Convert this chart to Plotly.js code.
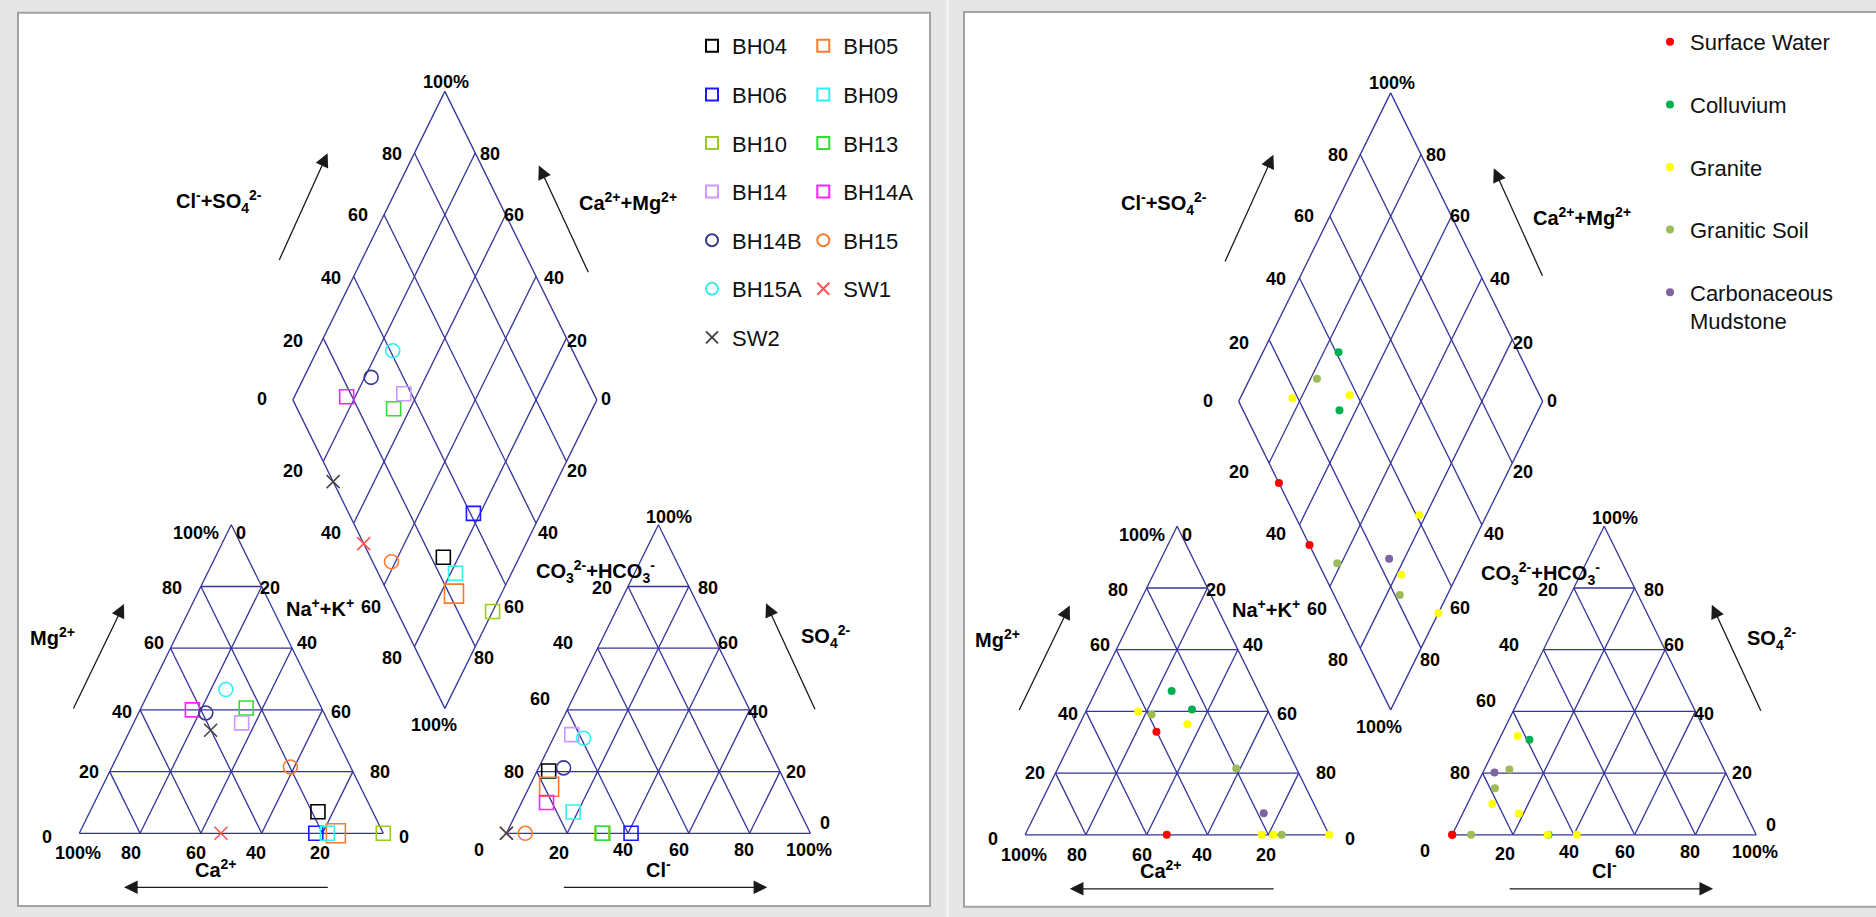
<!DOCTYPE html>
<html>
<head>
<meta charset="utf-8">
<script src="https://cdn.plot.ly/plotly-3.0.1.min.js"></script>
<style>
html,body{margin:0;padding:0;background:#e6e6e6;}
#chart{width:1876px;height:917px;}
</style>
</head>
<body>
<div id="chart"></div>
<script>
// ---------------- DATA (percent of meq) ----------------
const samples = ['BH04','BH05','BH06','BH09','BH10','BH13','BH14','BH14A','BH14B','BH15','BH15A','SW1','SW2'];
const calcium         = [18.0, 15.6, 22.2, 18.4,   0.0, 24.8, 28.7, 42.8, 38.9, 19.8, 28.5, 53.4, 40.1];
const magnesium       = [ 7.0,  0.0,  0.0,  0.0,   0.0, 40.6, 35.8, 40.0, 39.0, 21.5, 46.6,  0.0, 33.4];
const sodiumPotassium = [75.0, 84.4, 77.8, 81.6, 100.0, 34.6, 35.5, 17.2, 22.1, 58.7, 24.9, 46.6, 26.5];
const bicarbonate     = [76.0, 78.4, 59.0, 74.6,  68.6, 68.3, 62.5, 81.8, 70.6, 93.8, 59.2,100.0,100.0];
const sulfate         = [20.2, 15.1,  0.0,  6.9,   0.0,  0.0, 32.0, 10.0, 21.2,  0.0, 30.8,  0.0,  0.0];
const chloride        = [ 3.8,  6.5, 41.0, 18.5,  31.4, 31.7,  5.5,  8.2,  8.2,  6.2, 10.0,  0.0,  0.0];
const geology = ['Carbonaceous Mudstone','Granitic Soil','Granite','Granite','Granite','Colluvium',
                 'Granite','Granite','Granitic Soil','Granitic Soil','Colluvium','Surface Water','Surface Water'];
const geologyGroups = ['Surface Water','Colluvium','Granite','Granitic Soil','Carbonaceous Mudstone'];
const geologyLabels = ['Surface Water','Colluvium','Granite','Granitic Soil','Carbonaceous<br>Mudstone'];
const gridLevels = [0, 20, 40, 60, 80];
const edgeLevel = 100;

// ---------------- STYLES ----------------
const sampleStyles = {
  BH04:  {symbol:'square-open', color:'#000000', size:14},
  BH05:  {symbol:'square-open', color:'#ff7a2f', size:19},
  BH06:  {symbol:'square-open', color:'#1a1aff', size:14},
  BH09:  {symbol:'square-open', color:'#33f0f0', size:14},
  BH10:  {symbol:'square-open', color:'#99cc22', size:14},
  BH13:  {symbol:'square-open', color:'#33dd33', size:14},
  BH14:  {symbol:'square-open', color:'#cc99ff', size:14},
  BH14A: {symbol:'square-open', color:'#ff22ff', size:14},
  BH14B: {symbol:'circle-open', color:'#3a3a8f', size:14},
  BH15:  {symbol:'circle-open', color:'#ff7a2f', size:14},
  BH15A: {symbol:'circle-open', color:'#33f0f0', size:14},
  SW1:   {symbol:'x-thin-open', color:'#ff5555', size:13},
  SW2:   {symbol:'x-thin-open', color:'#444444', size:13}
};
const groupColors = {'Surface Water':'#ff0000','Colluvium':'#00b050','Granite':'#ffff00',
                     'Granitic Soil':'#9bbb59','Carbonaceous Mudstone':'#8064a2'};
const GRID_COLOR = '#33339a';
const FONT = 'Liberation Sans, Arial, sans-serif';

// ---------------- GEOMETRY (pixel frame of the page) ----------------
const W = 1876, H = 917;
const OX = 79.3, OY = 833.3;      // pixel of cation triangle's lower-left vertex (left panel)
const SX = 3.04, SY = 3.085;      // pixels per percent unit
const GAP = 40.5;                 // gap between the two triangles (units)
const PANEL_DX = 945.8, PANEL_DY = 1.5; // pixel shift of the right panel
const shiftX = PANEL_DX / SX, shiftY = -PANEL_DY / SY;

function cationXY(ca, mg, nak){ const s = ca+mg+nak; mg=100*mg/s; nak=100*nak/s; return [nak + mg/2, mg]; }
function anionXY(hco3, so4, cl){ const s = hco3+so4+cl; so4=100*so4/s; cl=100*cl/s; return [100 + GAP + cl + so4/2, so4]; }
function diamondXY(nak, cs){ return [50 + GAP/2 + (nak + cs)/2, 100 + GAP + cs - nak]; }
function cationNaK(i){ return 100*sodiumPotassium[i]/(calcium[i]+magnesium[i]+sodiumPotassium[i]); }
function anionClSO4(i){ return 100*(chloride[i]+sulfate[i])/(bicarbonate[i]+sulfate[i]+chloride[i]); }
function samplePoints(i){
  return [cationXY(calcium[i], magnesium[i], sodiumPotassium[i]),
          diamondXY(cationNaK(i), anionClSO4(i)),
          anionXY(bicarbonate[i], sulfate[i], chloride[i])];
}
const X = px => (px - OX) / SX;
const Y = py => (OY - py) / SY;

// ---------------- GRID ----------------
function gridTrace(dx, dy){
  const xs = [], ys = [];
  const seg = (a, b) => { xs.push(a[0]+dx, b[0]+dx, null); ys.push(a[1]+dy, b[1]+dy, null); };
  gridLevels.forEach(L => {
    const R = edgeLevel - L;
    // cation triangle
    seg(cationXY(R, L, 0), cationXY(0, L, R));
    seg(cationXY(R, 0, L), cationXY(0, R, L));
    seg(cationXY(L, 0, R), cationXY(L, R, 0));
    // anion triangle
    seg(anionXY(R, L, 0), anionXY(0, L, R));
    seg(anionXY(R, 0, L), anionXY(0, R, L));
    seg(anionXY(L, 0, R), anionXY(L, R, 0));
  });
  gridLevels.concat([edgeLevel]).forEach(L => {
    seg(diamondXY(0, L), diamondXY(100, L));
    seg(diamondXY(L, 0), diamondXY(L, 100));
  });
  return {x:xs, y:ys, type:'scatter', mode:'lines', line:{color:GRID_COLOR, width:1.3},
          hoverinfo:'skip', showlegend:false, cliponaxis:false};
}

const traces = [gridTrace(0,0), gridTrace(shiftX, shiftY)];

// left panel: one trace per sample
samples.forEach((name, i) => {
  const st = sampleStyles[name];
  const pts = samplePoints(i);
  traces.push({
    type:'scatter', mode:'markers', name:name,
    x: pts.map(p => p[0]), y: pts.map(p => p[1]),
    marker:{symbol:st.symbol, color:st.color, size:st.size, line:{color:st.color, width:1.6}},
    legend: (i % 2 === 0) ? 'legend' : 'legend2',
    legendgroup:'s'+name, cliponaxis:false, hoverinfo:'name'
  });
});

// right panel: one trace per geology group
geologyGroups.forEach((g, k) => {
  const xs = [], ys = [];
  samples.forEach((name, i) => {
    if (geology[i] !== g) return;
    samplePoints(i).forEach(p => { xs.push(p[0] + shiftX); ys.push(p[1] + shiftY); });
  });
  traces.push({
    type:'scatter', mode:'markers', name:geologyLabels[k], x:xs, y:ys,
    marker:{symbol:'circle', color:groupColors[g], size:8},
    legend:'legend3', legendgroup:'g'+k, cliponaxis:false, hoverinfo:'name'
  });
});

// ---------------- LABELS (pixel positions in the left panel) ----------------
const tickLabels = [
  // cation triangle
  ['100%',196,533.3],['0',240.7,533.3],['80',171.7,588.3],['20',270,588.3],['60',154,643.3],['40',307.3,643.3],
  ['40',121.7,712.3],['60',340.7,712.3],['20',89.3,771.7],['80',380,771.7],['0',46.7,837.3],['0',404.3,837.3],
  ['100%',77.7,853.3],['80',130.7,853.3],['60',196,853.3],['40',256,853.3],['20',320,853.3],
  // anion triangle
  ['100%',669,516.7],['20',602.3,588.3],['80',707.7,588.3],['40',563.3,643.3],['60',728.3,643.3],['60',540,699.3],
  ['40',758.3,712.3],['80',514.3,771.7],['20',796,771.7],['0',825,823.3],['0',479.4,849.8],['20',559.3,852.7],
  ['40',622.7,850],['60',679.3,850],['80',744,850],['100%',809.3,850],
  // diamond
  ['100%',445.7,81.9],['80',391.8,153.8],['80',489.8,153.8],['60',358.2,214.6],['60',514.3,214.6],
  ['40',330.6,277.8],['40',554.1,277.8],['20',292.7,341],['20',577.4,341],['0',262,399.4],['0',606.1,399.4],
  ['20',292.7,470.8],['20',577.4,470.8],['40',330.6,532.8],['40',548,532.8],['60',370.7,607.3],['60',514.3,606.5],
  ['80',391.8,658],['80',483.7,658],['100%',433.5,725.2]
];
const ionLabels = [
  {t:'Mg<sup>2+</sup>', x:52, y:636.7},
  {t:'Ca<sup>2+</sup>', x:215.5, y:868.3},
  {t:'Na<sup>+</sup>+K<sup>+</sup>', x:356, y:607.3, anchor:'right'},
  {t:'CO<sub>3</sub><sup>2-</sup>+HCO<sub>3</sub><sup>-</sup>', x:595, y:571.7},
  {t:'SO<sub>4</sub><sup>2-</sup>', x:825.8, y:636.7},
  {t:'Cl<sup>-</sup>', x:658.3, y:868.3},
  {t:'Cl<sup>-</sup>+SO<sub>4</sub><sup>2-</sup>', x:218.6, y:201.8},
  {t:'Ca<sup>2+</sup>+Mg<sup>2+</sup>', x:627.6, y:201.8, right:{x:636.5, y:214.5}}
];
const arrows = [
  {tx:72.7, ty:710, hx:124, hy:604},
  {tx:329.3, ty:887.3, hx:124, hy:887.3},
  {tx:815.7, ty:710.7, hx:766, hy:603.3},
  {tx:562.3, ty:887.3, hx:767.3, hy:887.3},
  {tx:278.6, ty:261.4, hx:327.6, hy:153.2},
  {tx:589, ty:273.7, hx:538.8, hy:165.5, right:{tx:597.3, ty:275.8, hx:548, hy:166.8}}
];

const annotations = [];
[0, 1].forEach(panel => {
  const ox = panel ? PANEL_DX : 0, oy = panel ? PANEL_DY : 0;
  tickLabels.forEach(([t, px, py]) => annotations.push({
    text:t, x:X(px+ox), y:Y(py+oy), xref:'x', yref:'y', showarrow:false,
    xanchor:'center', yanchor:'middle', font:{family:FONT, size:18, color:'#000', weight:'bold'}
  }));
  ionLabels.forEach(l => {
    const p = (panel && l.right) ? l.right : l;
    const shiftPx = (panel && l.right) ? 0 : ox, shiftPy = (panel && l.right) ? 0 : oy;
    annotations.push({
      text:l.t, x:X(p.x+shiftPx+(panel && l.right ? PANEL_DX : 0)), y:Y(p.y+shiftPy+(panel && l.right ? PANEL_DY : 0)),
      xref:'x', yref:'y', showarrow:false,
      xanchor:l.anchor || 'center', yanchor:'middle', font:{family:FONT, size:20, color:'#000', weight:'bold'}
    });
  });
  arrows.forEach(a => {
    const p = (panel && a.right) ? a.right : a;
    annotations.push({
      text:'', x:X(p.hx+ox), y:Y(p.hy+oy), ax:X(p.tx+ox), ay:Y(p.ty+oy),
      xref:'x', yref:'y', axref:'x', ayref:'y', showarrow:true,
      arrowhead:2, arrowsize:2.1, arrowwidth:1.3, arrowcolor:'#1a1a1a', standoff:0, startstandoff:0
    });
  });
});

// ---------------- PANEL FRAMES ----------------
function pxRect(x0, y0, x1, y1, fill, line, lw){
  return {type:'rect', xref:'paper', yref:'paper', x0:x0/W, x1:x1/W, y0:1-y1/H, y1:1-y0/H,
          fillcolor:fill, line:{color:line, width:lw}, layer:'below'};
}
const shapes = [
  pxRect(18, 12.7, 930, 906, '#ffffff', '#a3a3a3', 2),
  pxRect(964, 12, 1900, 906.7, '#ffffff', '#a3a3a3', 2),
  {type:'line', xref:'paper', yref:'paper', x0:947.5/W, x1:947.5/W, y0:0, y1:1,
   line:{color:'#f7f7f7', width:2}, layer:'below'}
];

const legendBase = {orientation:'v', xanchor:'left', yanchor:'top', bgcolor:'rgba(0,0,0,0)',
                    borderwidth:0, traceorder:'grouped', font:{family:FONT, size:22, color:'#111'}};

const layout = {
  width:W, height:H, margin:{l:0, r:0, t:0, b:0},
  paper_bgcolor:'#e6e6e6', plot_bgcolor:'rgba(0,0,0,0)',
  xaxis:{range:[X(0), X(W)], visible:false, fixedrange:true, domain:[0,1]},
  yaxis:{range:[Y(H), Y(0)], visible:false, fixedrange:true, domain:[0,1]},
  showlegend:true,
  legend: Object.assign({}, legendBase, {x:692/W, y:1-25/H, tracegroupgap:17, itemsizing:'constant'}),
  legend2:Object.assign({}, legendBase, {x:803.3/W, y:1-25/H, tracegroupgap:17, itemsizing:'constant'}),
  legend3:Object.assign({}, legendBase, {x:1650/W, y:1-21/H, tracegroupgap:31, itemsizing:'trace', valign:'top'}),
  annotations:annotations,
  shapes:shapes,
  hovermode:false
};

Plotly.newPlot('chart', traces, layout, {displayModeBar:false, responsive:false});
</script>
</body>
</html>
